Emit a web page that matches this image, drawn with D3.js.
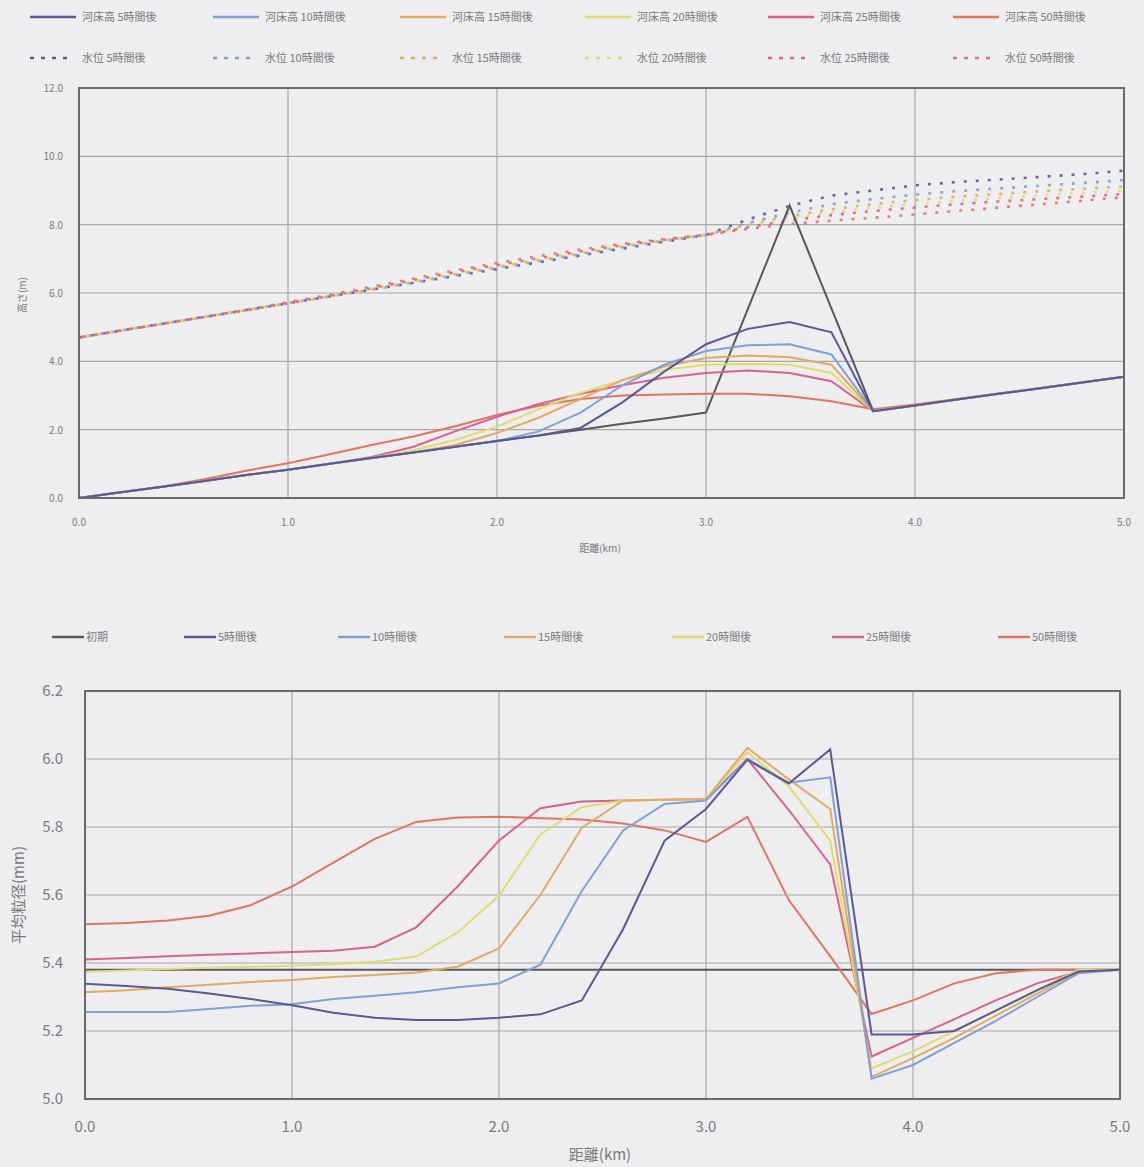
<!DOCTYPE html>
<html>
<head>
<meta charset="utf-8">
<script src="https://cdn.jsdelivr.net/npm/d3@7"></script>
<style>
  html, body { margin: 0; padding: 0; background: #eeedef; }
  svg { display: block; font-family: "Noto Sans CJK JP", "Noto Sans", sans-serif; }
</style>
</head>
<body>
<svg id="chart" width="1144" height="1167"></svg>
<script>
// Distance along the channel (km), computation grid
const dist = [0.0,0.2,0.4,0.6,0.8,1.0,1.2,1.4,1.6,1.8,2.0,2.2,2.4,2.6,2.8,3.0,3.2,3.4,3.6,3.8,4.0,4.2,4.4,4.6,4.8,5.0];

// Bed elevation (m)
const bedInit = [0.00,0.17,0.33,0.50,0.67,0.83,1.00,1.17,1.33,1.50,1.67,1.83,2.00,2.17,2.33,2.50,5.53,8.56,5.55,2.54,2.71,2.88,3.05,3.21,3.38,3.55];
const bed5    = [0.00,0.17,0.33,0.50,0.67,0.83,1.00,1.17,1.33,1.50,1.67,1.83,2.05,2.80,3.70,4.50,4.95,5.15,4.85,2.54,2.71,2.88,3.05,3.21,3.38,3.55];
const bed10   = [0.00,0.17,0.33,0.50,0.67,0.83,1.00,1.17,1.33,1.50,1.67,1.95,2.50,3.30,3.90,4.30,4.47,4.50,4.20,2.54,2.71,2.88,3.05,3.21,3.38,3.55];
const bed15   = [0.00,0.17,0.33,0.50,0.67,0.83,1.00,1.17,1.33,1.55,1.90,2.35,2.90,3.45,3.85,4.10,4.17,4.12,3.90,2.54,2.71,2.88,3.05,3.21,3.38,3.55];
const bed20   = [0.00,0.17,0.33,0.50,0.67,0.83,1.00,1.17,1.40,1.70,2.09,2.60,3.08,3.45,3.75,3.90,3.92,3.90,3.66,2.54,2.71,2.88,3.05,3.21,3.38,3.55];
const bed25   = [0.00,0.17,0.33,0.50,0.67,0.83,1.00,1.20,1.50,1.95,2.38,2.75,3.05,3.30,3.52,3.66,3.73,3.66,3.42,2.54,2.71,2.88,3.05,3.21,3.38,3.55];
const bed50   = [0.00,0.17,0.34,0.55,0.80,1.02,1.28,1.55,1.80,2.10,2.43,2.70,2.90,3.00,3.03,3.05,3.05,2.98,2.83,2.60,2.74,2.90,3.06,3.22,3.39,3.55];

// Water level (m)
const wl5  = [4.70,4.90,5.10,5.30,5.50,5.70,5.90,6.10,6.30,6.50,6.70,6.90,7.10,7.30,7.50,7.70,8.15,8.55,8.85,9.00,9.15,9.25,9.32,9.40,9.48,9.58];
const wl10 = [4.70,4.90,5.10,5.30,5.50,5.70,5.90,6.10,6.30,6.52,6.73,6.93,7.13,7.33,7.52,7.70,8.05,8.35,8.60,8.75,8.88,8.98,9.06,9.14,9.22,9.30];
const wl15 = [4.70,4.90,5.10,5.30,5.50,5.70,5.90,6.10,6.32,6.55,6.76,6.96,7.16,7.36,7.54,7.70,8.00,8.25,8.45,8.60,8.72,8.82,8.90,8.98,9.05,9.12];
const wl20 = [4.70,4.90,5.10,5.30,5.50,5.70,5.90,6.12,6.35,6.58,6.79,6.99,7.19,7.38,7.55,7.70,7.95,8.18,8.35,8.50,8.60,8.70,8.78,8.86,8.93,9.00];
const wl25 = [4.70,4.90,5.10,5.30,5.50,5.70,5.91,6.14,6.38,6.61,6.82,7.02,7.22,7.40,7.56,7.70,7.92,8.12,8.28,8.40,8.50,8.60,8.68,8.75,8.82,8.90];
const wl50 = [4.70,4.90,5.10,5.30,5.51,5.73,5.95,6.18,6.42,6.66,6.88,7.08,7.27,7.44,7.58,7.70,7.88,8.02,8.12,8.20,8.30,8.40,8.50,8.60,8.70,8.80];

// Mean grain size (mm)
const dInit = [5.38,5.38,5.38,5.38,5.38,5.38,5.38,5.38,5.38,5.38,5.38,5.38,5.38,5.38,5.38,5.38,5.38,5.38,5.38,5.38,5.38,5.38,5.38,5.38,5.38,5.38];
const d5    = [5.339,5.332,5.324,5.310,5.294,5.276,5.254,5.239,5.232,5.232,5.239,5.249,5.290,5.500,5.760,5.853,5.998,5.928,6.028,5.190,5.190,5.200,5.260,5.320,5.375,5.380];
const d10   = [5.256,5.256,5.256,5.265,5.274,5.279,5.294,5.304,5.314,5.329,5.340,5.395,5.612,5.790,5.868,5.878,6.000,5.930,5.946,5.060,5.100,5.165,5.230,5.300,5.370,5.380];
const d15   = [5.314,5.320,5.329,5.336,5.344,5.350,5.359,5.365,5.372,5.389,5.443,5.600,5.798,5.878,5.880,5.882,6.033,5.940,5.853,5.065,5.120,5.180,5.245,5.310,5.375,5.380];
const d20   = [5.374,5.378,5.382,5.386,5.389,5.392,5.396,5.404,5.419,5.490,5.598,5.778,5.858,5.878,5.880,5.882,6.020,5.920,5.760,5.090,5.140,5.200,5.260,5.320,5.380,5.380];
const d25   = [5.410,5.415,5.420,5.424,5.428,5.432,5.436,5.448,5.505,5.625,5.760,5.855,5.875,5.878,5.880,5.882,6.000,5.850,5.690,5.125,5.180,5.235,5.290,5.340,5.375,5.380];
const d50   = [5.514,5.518,5.525,5.539,5.570,5.625,5.695,5.765,5.815,5.828,5.830,5.826,5.822,5.810,5.790,5.756,5.830,5.585,5.420,5.250,5.290,5.340,5.370,5.380,5.380,5.380];

// Tick labels
const topYTicks = [0, 2, 4, 6, 8, 10, 12];
const topYLabels = ["0.0", "2.0", "4.0", "6.0", "8.0", "10.0", "12.0"];
const xTicks = [0, 1, 2, 3, 4, 5];
const xLabels = ["0.0", "1.0", "2.0", "3.0", "4.0", "5.0"];
const botYTicks = [5.0, 5.2, 5.4, 5.6, 5.8, 6.0, 6.2];
const botYLabels = ["5.0", "5.2", "5.4", "5.6", "5.8", "6.0", "6.2"];

// Series names and colours
const hours = ["5", "10", "15", "20", "25", "50"];
const colors = ["#5a5896", "#7fa0d8", "#e4aa62", "#e2dc6a", "#d8628e", "#e07560"];
const initColor = "#58585c";
const bedSeries = [bed5, bed10, bed15, bed20, bed25, bed50];
const wlSeries = [wl5, wl10, wl15, wl20, wl25, wl50];
const gsSeries = [d5, d10, d15, d20, d25, d50];

const svg = d3.select("#chart");
const textColor = "#7a7a7c";

function drawFrame(x, y, xt, yt) {
  const g = svg.append("g");
  // gridlines
  g.selectAll(".vg").data(xt.slice(1, -1)).join("line")
    .attr("x1", d => x(d)).attr("x2", d => x(d))
    .attr("y1", y.range()[0]).attr("y2", y.range()[1])
    .attr("stroke", "#a9a8ac").attr("stroke-width", 1.2);
  g.selectAll(".hg").data(yt.slice(1, -1)).join("line")
    .attr("x1", x.range()[0]).attr("x2", x.range()[1])
    .attr("y1", d => y(d)).attr("y2", d => y(d))
    .attr("stroke", "#a9a8ac").attr("stroke-width", 1.2);
  return g;
}

function drawBorder(x, y) {
  svg.append("rect")
    .attr("x", x.range()[0]).attr("y", y.range()[1])
    .attr("width", x.range()[1] - x.range()[0])
    .attr("height", y.range()[0] - y.range()[1])
    .attr("fill", "none").attr("stroke", "#6a6a6e").attr("stroke-width", 2);
}

// ---------- Upper chart: bed elevation and water level ----------
const x1 = d3.scaleLinear().domain([0, 5]).range([79, 1124]);
const y1 = d3.scaleLinear().domain([0, 12]).range([498, 88]);
drawFrame(x1, y1, xTicks, topYTicks);

const line1 = d3.line().x((d, i) => x1(dist[i])).y(d => y1(d));

// water levels (dotted)
wlSeries.forEach((s, k) => {
  svg.append("path").datum(s).attr("d", line1)
    .attr("fill", "none").attr("stroke", colors[k]).attr("stroke-width", 2.6)
    .attr("stroke-dasharray", "3,9").attr("stroke-dashoffset", k * 2).attr("opacity", 0.9);
});
// bed elevations
svg.append("path").datum(bedInit).attr("d", line1)
  .attr("fill", "none").attr("stroke", initColor).attr("stroke-width", 2);
bedSeries.slice().reverse().forEach((s, k) => {
  svg.append("path").datum(s).attr("d", line1)
    .attr("fill", "none").attr("stroke", colors[colors.length - 1 - k]).attr("stroke-width", 2);
});
drawBorder(x1, y1);

svg.append("g").selectAll("text").data(topYTicks).join("text")
  .attr("x", 63).attr("y", d => y1(d) + 4).attr("text-anchor", "end")
  .attr("font-size", 10).attr("fill", textColor)
  .text((d, i) => topYLabels[i]);
svg.append("g").selectAll("text").data(xTicks).join("text")
  .attr("x", d => x1(d)).attr("y", 526).attr("text-anchor", "middle")
  .attr("font-size", 10).attr("fill", textColor)
  .text((d, i) => xLabels[i]);
svg.append("text").attr("x", 600).attr("y", 552).attr("text-anchor", "middle")
  .attr("font-size", 10).attr("fill", textColor).text("距離(km)");
svg.append("text").attr("transform", "translate(26,295) rotate(-90)")
  .attr("text-anchor", "middle").attr("font-size", 10).attr("fill", textColor).text("高さ(m)");

// legend (two rows)
const legX = [30, 213, 400, 585, 768, 953];
hours.forEach((h, k) => {
  const g = svg.append("g");
  g.append("line").attr("x1", legX[k]).attr("x2", legX[k] + 46)
    .attr("y1", 17).attr("y2", 17).attr("stroke", colors[k]).attr("stroke-width", 2.5);
  g.append("text").attr("x", legX[k] + 52).attr("y", 21)
    .attr("font-size", 11).attr("fill", textColor).text("河床高 " + h + "時間後");
  g.append("line").attr("x1", legX[k]).attr("x2", legX[k] + 42)
    .attr("y1", 58).attr("y2", 58).attr("stroke", colors[k]).attr("stroke-width", 2.5)
    .attr("stroke-dasharray", "4,7");
  g.append("text").attr("x", legX[k] + 52).attr("y", 62)
    .attr("font-size", 11).attr("fill", textColor).text("水位 " + h + "時間後");
});

// ---------- Lower chart: mean grain size ----------
const x2 = d3.scaleLinear().domain([0, 5]).range([85, 1120]);
const y2 = d3.scaleLinear().domain([5.0, 6.2]).range([1099, 691]);
drawFrame(x2, y2, xTicks, botYTicks);

const line2 = d3.line().x((d, i) => x2(dist[i])).y(d => y2(d));
svg.append("path").datum(dInit).attr("d", line2)
  .attr("fill", "none").attr("stroke", initColor).attr("stroke-width", 2);
gsSeries.slice().reverse().forEach((s, k) => {
  svg.append("path").datum(s).attr("d", line2)
    .attr("fill", "none").attr("stroke", colors[colors.length - 1 - k]).attr("stroke-width", 2);
});
drawBorder(x2, y2);

svg.append("g").selectAll("text").data(botYTicks).join("text")
  .attr("x", 63).attr("y", d => y2(d) + 5).attr("text-anchor", "end")
  .attr("font-size", 15).attr("fill", textColor)
  .text((d, i) => botYLabels[i]);
svg.append("g").selectAll("text").data(xTicks).join("text")
  .attr("x", d => x2(d)).attr("y", 1132).attr("text-anchor", "middle")
  .attr("font-size", 15).attr("fill", textColor)
  .text((d, i) => xLabels[i]);
svg.append("text").attr("x", 600).attr("y", 1160).attr("text-anchor", "middle")
  .attr("font-size", 15).attr("fill", textColor).text("距離(km)");
svg.append("text").attr("transform", "translate(24,895) rotate(-90)")
  .attr("text-anchor", "middle").attr("font-size", 15).attr("fill", textColor).text("平均粒径(mm)");

// legend (one row)
const leg2Names = ["初期"].concat(hours.map(h => h + "時間後"));
const leg2Colors = [initColor].concat(colors);
const leg2X = [52, 184, 338, 504, 672, 832, 998];
leg2Names.forEach((n, k) => {
  svg.append("line").attr("x1", leg2X[k]).attr("x2", leg2X[k] + 32)
    .attr("y1", 637).attr("y2", 637).attr("stroke", leg2Colors[k]).attr("stroke-width", 2.5);
  svg.append("text").attr("x", leg2X[k] + 34).attr("y", 641)
    .attr("font-size", 11).attr("fill", textColor).text(n);
});
</script>
</body>
</html>
